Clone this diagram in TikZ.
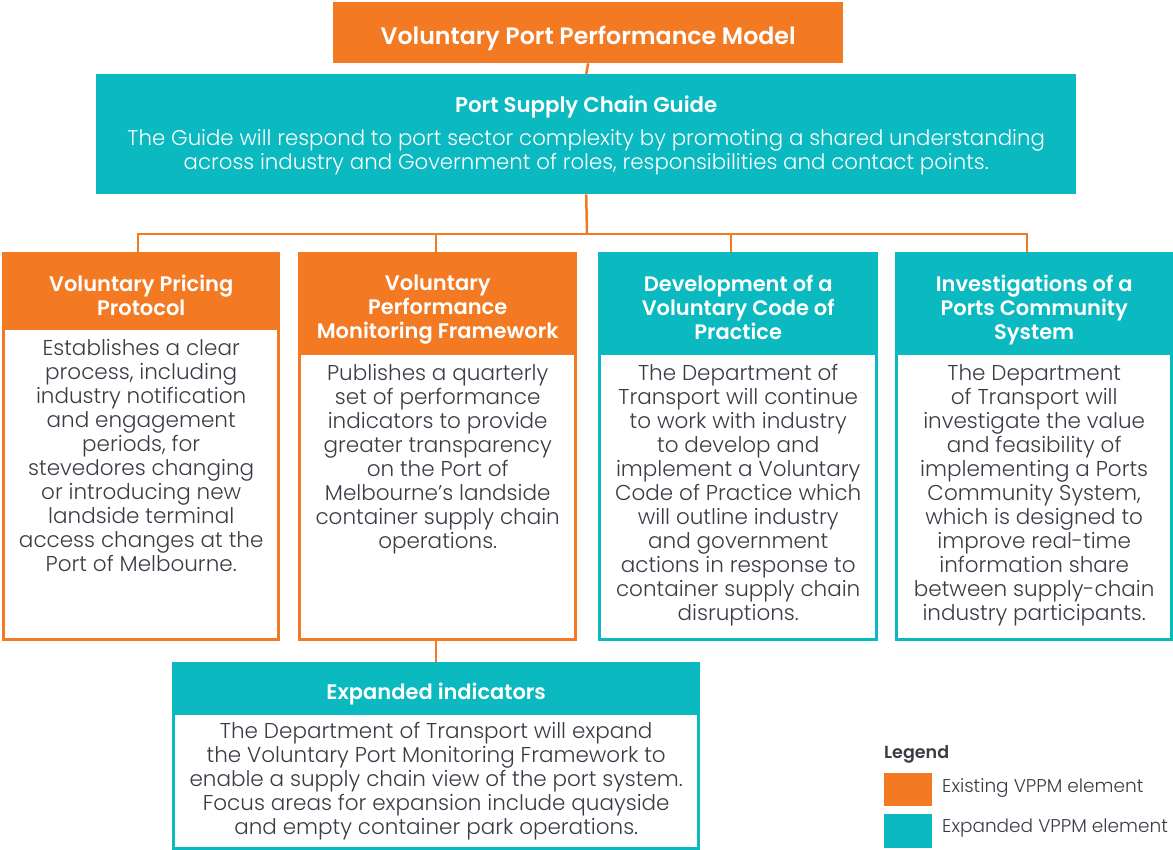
\documentclass[tikz,border=0pt]{standalone}
\usepackage{fontspec}
\setmainfont{Poppins}
\newfontfamily\lightfont{Poppins Light}
\newfontfamily\semifont{Poppins SemiBold}
\definecolor{vor}{HTML}{F37A22}
\definecolor{vte}{HTML}{0BB9C0}
\definecolor{vtx}{HTML}{3A3B45}
\tikzset{
  hbox/.style={anchor=north west, inner sep=0pt},
  ht/.style={anchor=north, inner sep=0pt, text=white, align=center,
    font=\fontsize{21}{24}\selectfont\semifont},
  bd/.style={anchor=north, inner sep=0pt, fill=white, line width=3pt},
  bt/.style={anchor=north, inner sep=0pt, text=vtx, align=center,
    font=\fontsize{21.5}{24}\selectfont\lightfont},
  conn/.style={draw=vor, line width=2.5pt},
}
\begin{document}
\begin{tikzpicture}[x=1pt,y=-1pt]
\useasboundingbox (0,0) rectangle (1173,850);
% top
\node[hbox, fill=vor, minimum width=510pt, minimum height=61pt] (top) at (333,2) {};
\node[ht, font=\fontsize{23.7}{24}\selectfont\semifont] (topt) at ([yshift=-24pt]top.north) {Voluntary Port Performance Model};
% guide
\node[hbox, fill=vte, minimum width=980pt, minimum height=120pt] (guide) at (96,74) {};
\node[ht, font=\fontsize{21.3}{24}\selectfont\semifont] (gt) at ([yshift=-22pt]guide.north) {Port Supply Chain Guide};
\node[ht, font=\fontsize{21.3}{24}\selectfont\lightfont] (gb) at ([yshift=-55pt]guide.north) {The Guide will respond to port sector complexity by promoting a shared understanding\\across industry and Government of roles, responsibilities and contact points.};
% column 1
\node[hbox, fill=vor, minimum width=278pt, minimum height=75pt] (h1) at (2,252) {};
\node[ht] (h1t) at ([yshift=-23pt]h1.north) {Voluntary Pricing\\Protocol};
\node[bd, draw=vor, minimum width=275pt, minimum height=310.5pt] (b1) at (h1.south) {};
\node[bt] (t1) at ([yshift=-12pt]b1.north) {Establishes a clear\\process, including\\industry notification\\and engagement\\periods, for\\stevedores changing\\or introducing new\\landside terminal\\access changes at the\\Port of Melbourne.};
% column 2
\node[hbox, fill=vor, minimum width=279pt, minimum height=100pt] (h2) at (298,252) {};
\node[ht] (h2t) at ([yshift=-23pt]h2.north) {Voluntary\\Performance\\Monitoring Framework};
\node[bd, draw=vor, minimum width=276pt, minimum height=285.5pt] (b2) at (h2.south) {};
\node[bt] (t2) at ([yshift=-11.5pt]b2.north) {Publishes a quarterly\\set of performance\\indicators to provide\\greater transparency\\on the Port of\\Melbourne’s landside\\container supply chain\\operations.};
% column 3
\node[hbox, fill=vte, minimum width=280pt, minimum height=100pt] (h3) at (598,252) {};
\node[ht] (h3t) at ([yshift=-23pt]h3.north) {Development of a\\Voluntary Code of\\Practice};
\node[bd, draw=vte, minimum width=277pt, minimum height=285.5pt] (b3) at (h3.south) {};
\node[bt] (t3) at ([yshift=-11.5pt]b3.north) {The Department of\\Transport will continue\\to work with industry\\to develop and\\implement a Voluntary\\Code of Practice which\\will outline industry\\and government\\actions in response to\\container supply chain\\disruptions.};
% column 4
\node[hbox, fill=vte, minimum width=278pt, minimum height=100pt] (h4) at (895,252) {};
\node[ht] (h4t) at ([yshift=-23pt]h4.north) {Investigations of a\\Ports Community\\System};
\node[bd, draw=vte, minimum width=275pt, minimum height=285.5pt] (b4) at (h4.south) {};
\node[bt] (t4) at ([yshift=-11.5pt]b4.north) {The Department\\of Transport will\\investigate the value\\and feasibility of\\implementing a Ports\\Community System,\\which is designed to\\improve real-time\\information share\\between supply-chain\\industry participants.};
% bottom
\node[hbox, fill=vte, minimum width=528pt, minimum height=50pt] (h5) at (172,662) {};
\node[ht] (h5t) at ([yshift=-21pt]h5.north) {Expanded indicators};
\node[bd, draw=vte, minimum width=525pt, minimum height=135pt] (b5) at (h5.south) {};
\node[bt] (t5) at ([yshift=-10pt]b5.north) {The Department of Transport will expand\\the Voluntary Port Monitoring Framework to\\enable a supply chain view of the port system.\\Focus areas for expansion include quayside\\and empty container park operations.};
% connectors
\coordinate (j) at (587,234);
\coordinate (c2) at ([xshift=-1.5pt]b2.south);
\draw[conn] (top.south) -- (guide.north);
\draw[conn] (guide.south) -- (j);
\draw[conn] ([xshift=-3pt]h1.north) |- (j);
\draw[conn] ([xshift=-1.5pt]h2.north) |- (j);
\draw[conn] ([xshift=-7pt]h3.north) |- (j);
\draw[conn] ([xshift=-7pt]h4.north) |- (j);
\draw[conn] (c2) -- (c2 |- h5.north);
% legend
\node[anchor=base west, inner sep=0pt, text=vtx, font=\fontsize{17.5}{18}\selectfont\semifont] (lg) at (884,758) {Legend};
\node[hbox, fill=vor, minimum width=48pt, minimum height=33pt] (l1) at (884,773) {};
\node[hbox, fill=vte, minimum width=48pt, minimum height=34pt] (l2) at (884,814) {};
\node[anchor=base west, inner sep=0pt, text=vtx, font=\fontsize{18.5}{18}\selectfont\lightfont] (lt1) at (942,792.5) {Existing VPPM element};
\node[anchor=base west, inner sep=0pt, text=vtx, font=\fontsize{18.5}{18}\selectfont\lightfont] (lt2) at (942,832.5) {Expanded VPPM element};
\end{tikzpicture}
\end{document}
